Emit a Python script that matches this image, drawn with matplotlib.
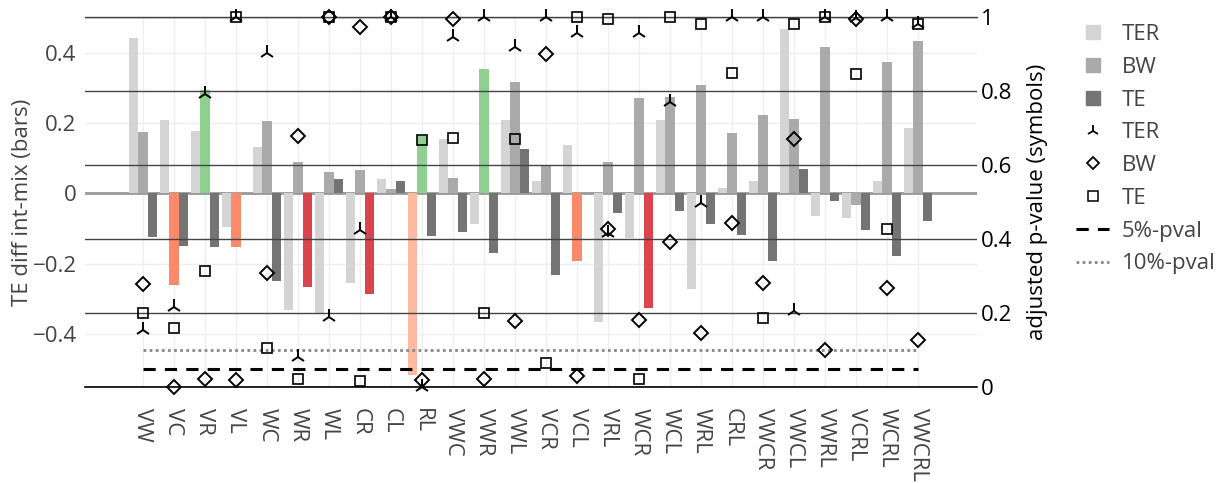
import matplotlib
matplotlib.use('Agg')
import matplotlib.pyplot as plt
from matplotlib.lines import Line2D
import numpy as np

plt.rcParams['font.family'] = ['Open Sans', 'DejaVu Sans']

cats = ["VW", "VC", "VR", "VL", "WC", "WR", "WL", "CR", "CL", "RL",
        "VWC", "VWR", "VWL", "VCR", "VCL", "VRL", "WCR", "WCL", "WRL", "CRL",
        "VWCR", "VWCL", "VWRL", "VCRL", "WCRL", "VWCRL"]

# TE difference int-mix (left axis, bars)
ter_diff = [0.44, 0.209, 0.177, -0.094, 0.133, -0.330, -0.341, -0.254, 0.042, -0.516,
            0.155, -0.088, 0.209, 0.035, 0.139, -0.366, -0.127, 0.209, -0.272, 0.016,
            0.035, 0.466, -0.065, -0.069, 0.035, 0.187]
bw_diff = [0.175, -0.261, 0.295, -0.152, 0.205, 0.089, 0.060, 0.068, 0.013, 0.162,
           0.043, 0.352, 0.315, 0.080, -0.192, 0.089, 0.270, 0.275, 0.308, 0.171,
           0.222, 0.211, 0.416, -0.032, 0.373, 0.433]
te_diff = [-0.124, -0.149, -0.153, 0.0, -0.247, -0.266, 0.040, -0.286, 0.036, -0.121,
           -0.109, -0.168, 0.125, -0.230, 0.0, -0.054, -0.326, -0.050, -0.088, -0.117,
           -0.192, 0.070, -0.022, -0.105, -0.178, -0.078]

# adjusted p-values (right axis, symbols)
ter_p = [0.155, 0.218, 0.792, 1.0, 0.903, 0.081, 0.191, 0.425, 1.0, 0.0,
         0.948, 1.0, 0.919, 1.0, 0.957, 0.416, 0.957, 0.772, 0.499, 1.0,
         1.0, 0.207, 1.0, 0.997, 1.0, 0.982]
bw_p = [0.280, 0.0, 0.022, 0.020, 0.308, 0.680, 1.0, 0.975, 1.0, 0.020,
        0.995, 0.022, 0.179, 0.900, 0.031, 0.429, 0.182, 0.394, 0.148, 0.445,
        0.283, 0.670, 0.101, 0.995, 0.269, 0.128]
te_p = [0.200, 0.159, 0.314, 1.0, 0.107, 0.022, 1.0, 0.017, 1.0, 0.668,
        0.675, 0.202, 0.672, 0.067, 1.0, 0.995, 0.022, 1.0, 0.982, 0.849,
        0.188, 0.982, 1.0, 0.847, 0.429, 0.982]

# highlighted bars
ter_hi = {"RL": "#fcbba1"}
bw_hi = {"VC": "#fc8a6a", "VL": "#fc8a6a", "VCL": "#fc8a6a",
         "VR": "#8fcf8f", "RL": "#8fcf8f", "VWR": "#8fcf8f"}
te_hi = {"WR": "#d9444d", "CR": "#d9444d", "WCR": "#d9444d"}

C_TER, C_BW, C_TE = "#d4d4d4", "#aaaaaa", "#747474"
GREY = "#444444"
FS = 16

fig = plt.figure(figsize=(12.2, 4.83), dpi=100)
ax = fig.add_axes([85 / 1220, 1 - 387.3 / 483, 892 / 1220, 370 / 483])
ax2 = ax.twinx()

x = np.arange(len(cats))
w = 0.3
for vals, off, base, hi in [(ter_diff, -w, C_TER, ter_hi),
                            (bw_diff, 0, C_BW, bw_hi),
                            (te_diff, w, C_TE, te_hi)]:
    cols = [hi.get(c, base) for c in cats]
    ax.bar(x + off, vals, width=w, color=cols, zorder=2)

ax.axhline(0, color="#999999", lw=2, zorder=1)
ax.set_xlim(-1.87, 26.9)
ax.set_ylim(-0.55, 0.5)
ax.set_yticks([-0.4, -0.2, 0, 0.2, 0.4])
ax.set_yticklabels(["\u22120.4", "\u22120.2", "0", "0.2", "0.4"])
ax.set_xticks(x)
ax.set_xticklabels(cats, rotation=-90, color=GREY)
ax.grid(True, color="#eeeeee", lw=1, zorder=0)
ax.set_axisbelow(True)
ax.tick_params(length=0, labelsize=FS, colors=GREY)
ax.tick_params(axis='x', pad=15)
ax.tick_params(axis='y', pad=6)
ax.set_ylabel("TE diff int-mix (bars)", fontsize=FS, color=GREY)
ax.yaxis.set_label_coords(-52 / 892, 0.5)

ax2.plot(x, ter_p, ls='', marker='2', ms=11.5, mew=1.4, color='black', zorder=4, clip_on=False)
ax2.plot(x, bw_p, ls='', marker='D', ms=7, mew=1.4, mfc='none', color='black', zorder=4, clip_on=False)
ax2.plot(x, te_p, ls='', marker='s', ms=7.5, mew=1.2, mfc='none', color='black', zorder=4, clip_on=False)
ax2.plot([x[0], x[-1]], [0.05, 0.05], ls=(0, (4, 3)), lw=2.2, color='black', zorder=3)
ax2.plot([x[0], x[-1]], [0.1, 0.1], ls=(0, (1, 1.2)), lw=2, color='#888888', zorder=3)
ax2.set_ylim(0, 1)
ax2.set_yticks([0, 0.2, 0.4, 0.6, 0.8, 1])
ax2.set_yticklabels(["0", "0.2", "0.4", "0.6", "0.8", "1"])
ax2.grid(True, axis='y', color='#444444', lw=1)
ax2.axhline(0, color='black', lw=1.2, clip_on=False, zorder=1)
ax2.axhline(1, color='#444444', lw=1, clip_on=False, zorder=1)
ax2.set_axisbelow(True)
ax2.tick_params(length=0, labelsize=FS, colors='black', pad=3)
ax2.set_ylabel("adjusted p-value (symbols)", fontsize=FS, color='black')
ax2.yaxis.set_label_coords(1 + 50 / 892, 0.5)

for a in (ax, ax2):
    for s in a.spines.values():
        s.set_visible(False)

handles = [
    Line2D([], [], ls='', marker='s', ms=10, color=C_TER, label='TER'),
    Line2D([], [], ls='', marker='s', ms=10, color=C_BW, label='BW'),
    Line2D([], [], ls='', marker='s', ms=10, color=C_TE, label='TE'),
    Line2D([], [], ls='', marker='2', ms=9, mew=1.3, color='black', label='TER'),
    Line2D([], [], ls='', marker='D', ms=6, mew=1.3, mfc='none', color='black', label='BW'),
    Line2D([], [], ls='', marker='s', ms=6.5, mew=1.1, mfc='none', color='black', label='TE'),
    Line2D([], [], ls=(0, (4, 3)), lw=2.2, color='black', label='5%-pval'),
    Line2D([], [], ls=(0, (1, 1.2)), lw=2, color='#888888', label='10%-pval'),
]
leg = fig.legend(handles=handles, loc='upper left', bbox_to_anchor=(1056 / 1220, 1 - 4 / 483),
                 frameon=False, fontsize=FS, handlelength=1.5, handletextpad=0.55,
                 labelspacing=0.53)
for t in leg.get_texts():
    t.set_color(GREY)

fig.savefig("out.png", dpi=100)
